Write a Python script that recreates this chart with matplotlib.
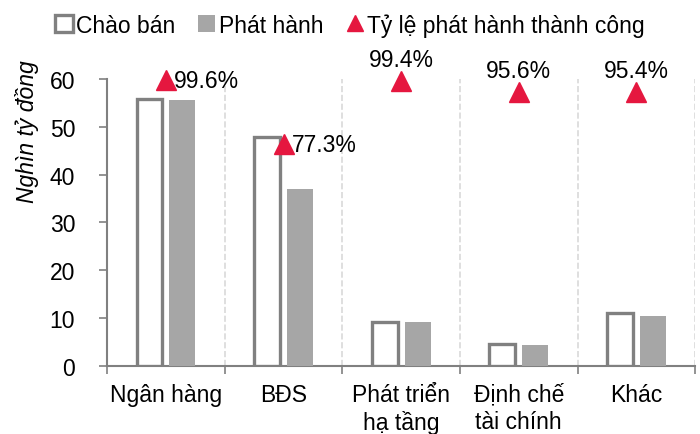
import matplotlib.pyplot as plt
from matplotlib.patches import Patch
from matplotlib.lines import Line2D
import numpy as np

plt.rcParams['font.family'] = ['Liberation Sans', 'DejaVu Sans']

# --- dữ liệu ---
categories = ['Ngân hàng', 'BĐS', 'Phát triển\nhạ tầng', 'Định chế\ntài chính', 'Khác']
chao_ban = [55.7, 47.8, 9.2, 4.6, 11.0]
phat_hanh = [55.5, 37.0, 9.2, 4.4, 10.5]
ty_le = [99.6, 77.3, 99.4, 95.6, 95.4]
rate_labels = ['99.6%', '77.3%', '99.4%', '95.6%', '95.4%']
label_side = ['right', 'right', 'top', 'top', 'top']

GRAY_EDGE = '#808080'
GRAY_FILL = '#A6A6A6'
RED = '#E5173F'
FS = 16.5

fig = plt.figure(figsize=(7, 4.35), dpi=100)
ax = fig.add_axes([0.153, 0.1563, 0.84, 0.66])

x = np.arange(len(categories))
w = 0.22
ax.bar(x - 0.14, chao_ban, w, facecolor='white', edgecolor=GRAY_EDGE, linewidth=2.4, zorder=3)
ax.bar(x + 0.14, phat_hanh, w, color=GRAY_FILL, zorder=3)

ax.set_xlim(-0.5, len(categories) - 0.5)
ax.set_ylim(0, 60)
ax.set_yticks(range(0, 61, 10))

# vạch chia nhóm
ax.set_xticks(x)
ax.set_xticklabels(categories, fontsize=FS, linespacing=1.25)
ax.set_xticks(np.arange(-0.5, len(categories), 1), minor=True)
ax.tick_params(axis='x', which='major', length=0, pad=12)
ax.tick_params(axis='x', which='minor', length=6, color=GRAY_EDGE, width=1.2)
for b in np.arange(0.5, len(categories), 1):
    ax.axvline(b, color='#D9D9D9', linestyle='--', linewidth=1.2, zorder=1)
ax.tick_params(axis='y', labelsize=FS, length=6, color=GRAY_EDGE, width=1.2, pad=17)

for s in ['top', 'right']:
    ax.spines[s].set_visible(False)
for s in ['left', 'bottom']:
    ax.spines[s].set_color(GRAY_EDGE)
    ax.spines[s].set_linewidth(1.5)

ax.set_ylabel('Nghìn tỷ đồng', fontsize=FS, style='italic')
ax.yaxis.set_label_coords(-0.115, 0.82)

# trục phụ cho tỷ lệ
ax2 = ax.twinx()
ax2.set_ylim(0, 100)
ax2.axis('off')
ax2.plot(x, ty_le, linestyle='none', marker='^', markersize=15, color=RED, clip_on=False, zorder=5)
for xi, v, lab, side in zip(x, ty_le, rate_labels, label_side):
    if side == 'right':
        ax2.annotate(lab, (xi, v), xytext=(6, 0), textcoords='offset points',
                     ha='left', va='center', fontsize=FS, annotation_clip=False)
    else:
        ax2.annotate(lab, (xi, v), xytext=(0, 7), textcoords='offset points',
                     ha='center', va='bottom', fontsize=FS, annotation_clip=False)

handles = [
    Patch(facecolor='white', edgecolor=GRAY_EDGE, linewidth=2.4),
    Patch(facecolor=GRAY_FILL, edgecolor='none'),
    Line2D([], [], linestyle='none', marker='^', markersize=11, color=RED),
]
fig.legend(handles, ['Chào bán', 'Phát hành', 'Tỷ lệ phát hành thành công'],
           loc='upper center', bbox_to_anchor=(0.5, 1.015), ncol=3, frameon=False,
           fontsize=FS, handlelength=0.75, handleheight=0.75, handletextpad=0.15,
           columnspacing=1.0)

fig.savefig('out.png', dpi=100)
